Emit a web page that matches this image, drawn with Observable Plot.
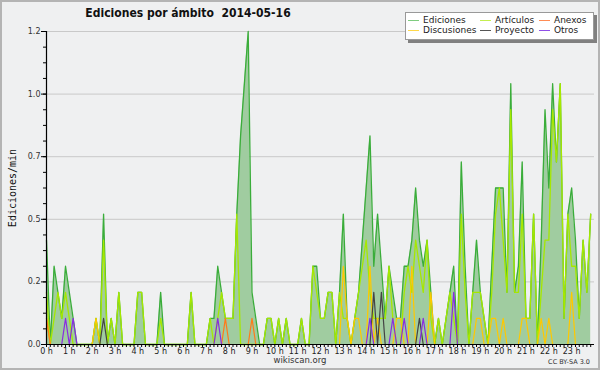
<!DOCTYPE html>
<html><head><meta charset="utf-8">
<script src="https://cdn.jsdelivr.net/npm/d3@7"></script>
<script src="https://cdn.jsdelivr.net/npm/@observablehq/plot@0.6"></script>
<style>
body{margin:0;background:#fff;}
#wrap{position:relative;width:600px;height:370px;background:#eff0f1;overflow:hidden;font-family:"DejaVu Sans",sans-serif;color:#222;}
#chart{position:absolute;left:0;top:0;}
#frame{position:absolute;left:0;top:0;width:600px;height:370px;box-sizing:border-box;border:2px solid #b4b4b4;pointer-events:none;}
#title{position:absolute;left:0;width:376px;top:6px;text-align:center;font-weight:bold;font-size:12.3px;white-space:pre;color:#111;line-height:14px;transform:scaleX(0.88);transform-origin:188px 0;}
#ylab{position:absolute;left:12px;top:188px;transform:translate(-50%,-50%) rotate(-90deg);font-family:"DejaVu Sans Mono",monospace;font-size:10px;white-space:nowrap;color:#111;}
#site{position:absolute;left:0;width:600px;top:356px;text-align:center;font-size:8.5px;line-height:9px;color:#333;}
#lic{position:absolute;right:10px;top:359px;font-size:6.5px;line-height:7px;color:#333;}
#legend{position:absolute;left:405px;top:12px;width:187px;height:26px;background:#fff;border:1px solid #999;box-shadow:3px 3px 0 #808080;font-size:9px;color:#222;}
.it{position:absolute;white-space:nowrap;line-height:10px;height:10px;padding-left:15px;}
.sw{position:absolute;left:0;top:5px;width:11px;height:1px;}
</style>
</head><body>
<div id="wrap">
  <div id="chart"></div>
  <div id="title"></div>
  <div id="ylab"></div>
  <div id="site"></div>
  <div id="lic"></div>
  <div id="legend"></div>
  <div id="frame"></div>
</div>
<script>
const titleText = "Ediciones por ámbito  2014-05-16";
const yLabel = "Ediciones/min";
const seriesNames = ["Ediciones","Artículos","Anexos","Discusiones","Proyecto","Otros"];
const seriesColors = ["#3aad3a","#a6e800","#ff7a1a","#ffc800","#444444","#8a2be2"];
const legendColors = ["#7fcc7f","#c4ee50","#ff8c55","#ffd84a","#555555","#9050e8"];

// 10-minute bins (144 per day), edits per minute
const total = [0.4,0,0.3,0.2,0.1,0.3,0.2,0.1,0,0,0,0,0,0.1,0,0.5,0,0.1,0,0.2,0,0,0,0,0.2,0.2,0,0,0,0,0.2,0,0,0,0,0,0,0,0.2,0,0,0,0,0.1,0.1,0.3,0.2,0.1,
0.1,0.1,0.5,0.8,1.0,1.2,0.2,0.1,0,0,0.1,0.1,0,0.1,0,0.1,0,0,0,0.1,0,0,0.3,0.3,0.1,0.1,0.2,0.2,0,0.2,0.5,0.1,0,0.1,0.2,0.4,0.6,0.8,0.3,0.5,0.3,0.1,0.3,0.2,0.1,0.1,0.3,0.3,
0.4,0.6,0.4,0.3,0.4,0.2,0,0.1,0,0.1,0.2,0.3,0,0.7,0.3,0,0.2,0.4,0.2,0.1,0,0.3,0.6,0.6,0.6,0.2,1.0,0.2,0.3,0.7,0.1,0.1,0.5,0,0.4,0.9,0.6,1.0,0.7,1.0,0.1,0.5,0.6,0.4,0.1,0.4,0.2,0.5];
const articulos = [0.2,0,0.1,0.2,0.1,0.2,0.1,0,0,0,0,0,0,0.1,0,0.4,0,0.1,0,0.2,0,0,0,0,0.2,0.2,0,0,0,0,0.1,0,0,0,0,0,0,0,0.2,0,0,0,0,0.1,0,0.1,0.2,0.1,
0.1,0.1,0.5,0,0,0,0,0,0,0,0.1,0.1,0,0.1,0,0.1,0,0,0,0.1,0,0,0.3,0.2,0.1,0.1,0.2,0.2,0,0.2,0.1,0.1,0,0.1,0.2,0.3,0.4,0.2,0.1,0.1,0.1,0.1,0.3,0.1,0,0,0.2,0.3,
0.2,0.4,0.3,0.2,0.4,0.1,0,0.1,0,0.1,0.2,0.1,0,0.5,0.2,0,0.2,0.2,0.2,0.1,0,0.2,0.5,0.6,0.4,0.2,0.9,0.2,0.2,0.5,0.1,0.1,0.5,0,0.2,0.4,0.4,0.9,0.7,1.0,0.1,0.5,0.3,0.3,0.1,0.4,0.2,0.5];
const discusiones = [0.1,0,0,0,0,0,0,0,0,0,0,0,0,0.1,0,0,0,0,0,0,0,0,0,0,0,0,0,0,0,0,0,0,0,0,0,0,0,0,0,0,0,0,0,0,0,0,0,0,
0,0,0,0,0,0,0,0,0,0,0,0,0,0,0,0,0,0,0,0,0,0,0,0,0,0,0,0,0,0,0.3,0.1,0,0.1,0.1,0,0,0.3,0,0.1,0,0,0,0,0.1,0.1,0,0,
0.3,0,0,0,0,0.2,0,0,0,0,0,0,0,0,0,0,0,0.1,0.1,0,0,0.1,0.1,0,0.1,0,0,0,0,0.1,0.1,0,0,0,0.1,0,0.1,0,0,0,0,0,0.2,0,0,0,0,0];
const anexos = [0.1,0,0,0,0,0,0,0,0,0,0,0,0,0,0,0,0,0,0,0,0,0,0,0,0,0,0,0,0,0,0,0,0,0,0,0,0,0,0,0,0,0,0,0,0,0,0,0.1,
0,0,0,0,0,0,0.1,0,0,0,0,0,0,0,0,0,0,0,0,0,0,0,0,0,0,0,0,0,0,0,0,0,0,0,0,0,0,0,0,0,0,0,0,0,0,0,0,0,
0,0,0,0,0,0,0,0,0,0,0,0,0,0,0,0,0,0,0,0,0,0,0,0,0,0,0,0,0,0,0,0,0,0,0,0,0,0,0,0,0,0,0,0,0,0,0,0];
const proyecto = [0,0,0,0,0,0,0,0,0,0,0,0,0,0,0,0.1,0,0,0,0,0,0,0,0,0,0,0,0,0,0,0,0,0,0,0,0,0,0,0,0,0,0,0,0,0,0,0,0,
0,0,0,0,0,0,0,0,0,0,0,0,0,0,0,0,0,0,0,0,0,0,0,0,0,0,0,0,0,0,0,0,0,0,0,0,0,0,0.2,0,0.2,0,0,0,0,0,0,0,
0,0,0.1,0,0,0,0,0,0,0,0,0,0,0,0,0,0,0,0,0,0,0,0,0,0,0,0,0,0,0,0,0,0,0,0,0,0,0,0,0,0,0,0,0,0,0,0,0];
const otros = [0,0,0,0,0,0.1,0,0.1,0,0,0,0,0,0,0,0,0,0,0,0,0,0,0,0,0,0,0,0,0,0,0,0,0,0,0,0,0,0,0,0,0,0,0,0,0,0.1,0,0,
0,0,0,0,0,0,0,0,0,0,0,0,0,0,0,0,0,0,0,0,0,0,0,0,0,0,0,0,0,0,0,0,0,0,0,0,0,0.1,0,0,0,0,0,0.1,0,0,0.1,0,
0,0,0,0.1,0,0,0,0,0,0,0,0.2,0,0,0,0,0,0,0,0,0,0,0,0,0,0,0,0,0,0,0,0,0,0,0,0,0,0,0,0,0,0,0,0,0,0,0,0];

const hourLabel = h => `${h} h`;
const yMajor = d3.range(6).map(k => k * 0.24);
const yMinor = d3.range(21).map(k => k * 0.06);
const xTicks = d3.range(144).map(i => i / 6);

const rows = total.map((t, i) => ({
  h: i / 6, total: t, articulos: articulos[i], discusiones: discusiones[i],
  anexos: anexos[i], proyecto: proyecto[i], otros: otros[i]
}));

const line = (key, color, w) => Plot.lineY(rows, {x: "h", y: key, stroke: color, strokeWidth: w});

const plot = Plot.plot({
  width: 600, height: 370,
  marginLeft: 46, marginRight: 6, marginTop: 31, marginBottom: 26,
  style: {background: "transparent", fontFamily: "'DejaVu Sans',sans-serif", fontSize: "8px", color: "#222", overflow: "visible"},
  x: {domain: [0, 24], axis: null},
  y: {domain: [0, 1.2], axis: null},
  marks: [
    Plot.gridY(yMajor, {stroke: "#c9c9c9", strokeOpacity: 1}),
    Plot.areaY(rows, {x: "h", y: "total", fill: "#a0cca0", fillOpacity: 1}),
    line("total", seriesColors[0], 1.3),
    line("articulos", seriesColors[1], 1.3),
    line("discusiones", seriesColors[3], 1.2),
    line("anexos", seriesColors[2], 1.2),
    line("proyecto", seriesColors[4], 1.2),
    line("otros", seriesColors[5], 1.2),
    Plot.axisY({ticks: yMinor, tickSize: 3, tickFormat: () => "", stroke: "black", label: null}),
    Plot.axisY({ticks: yMajor, tickSize: 5, tickPadding: 1, tickFormat: d => d.toFixed(1), stroke: "black", fill: "#333", label: null}),
    Plot.axisX({ticks: xTicks, tickSize: 3, tickPadding: 1, label: null,
      tickFormat: d => Math.abs(d - Math.round(d)) < 1e-9 ? hourLabel(Math.round(d)) : "", stroke: "black", fill: "#222"}),
    Plot.ruleX([0], {stroke: "black", strokeWidth: 1.2}),
    Plot.ruleY([0], {stroke: "black", strokeWidth: 1.2})
  ]
});
document.getElementById("chart").appendChild(plot);

document.getElementById("title").textContent = titleText;
document.getElementById("ylab").textContent = yLabel;
document.getElementById("site").textContent = "wikiscan.org";
document.getElementById("lic").textContent = "CC BY-SA 3.0";

// legend: 3 columns x 2 rows
const legendPos = [[2,2],[74,2],[133,2],[2,12],[74,12],[133,12]];
const lg = document.getElementById("legend");
seriesNames.forEach((name, k) => {
  const d = document.createElement("div");
  d.className = "it";
  d.style.left = legendPos[k][0] + "px";
  d.style.top = legendPos[k][1] + "px";
  const s = document.createElement("span");
  s.className = "sw";
  s.style.background = legendColors[k];
  d.appendChild(s);
  d.appendChild(document.createTextNode(name));
  lg.appendChild(d);
});
</script>
</body></html>
